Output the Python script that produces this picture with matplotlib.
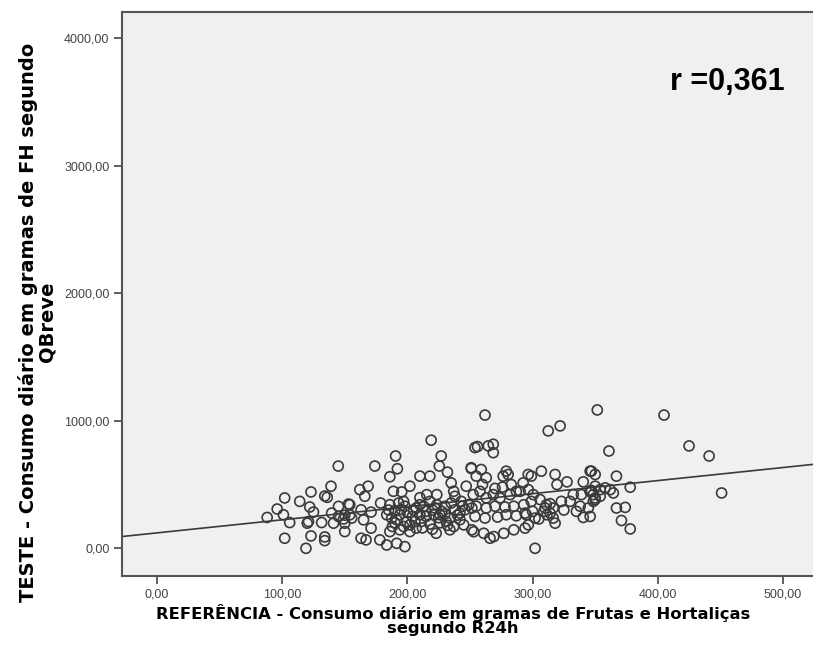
import numpy as np
import matplotlib
matplotlib.use("Agg")
import matplotlib.pyplot as plt
from matplotlib.ticker import FuncFormatter

# consumo diario (g) - REFERENCIA (R24h) x TESTE (QBreve)
x_ref = [144.8, 139, 102, 123, 134, 136, 114, 96, 122, 88, 101, 125, 106, 120, 121, 131.5,
         102, 123, 134, 134, 119, 145, 153, 139.5, 145, 149, 150, 141, 150, 150, 155.5,
         219, 190.6, 174, 227, 192, 225.5, 232, 186, 210, 218, 251, 254, 162, 168.6, 166,
         154, 154, 178.6, 163, 171, 165, 171, 163, 167, 178, 183.5, 191.5, 198, 188.8, 195.5,
         202, 186, 193, 197, 185, 190, 195, 210, 215.5, 223.5, 235, 237, 238, 247, 249,
         251.5, 251.5, 234, 237, 223, 202, 207, 194, 186, 188, 226, 221, 222, 210, 206,
         211, 215, 231, 234, 242, 245, 199.5, 197, 202, 191.5, 194, 187.5, 183.5, 210, 207,
         218, 223.5, 227.5, 230, 238, 242, 246, 235, 243,
         262, 312.5, 322, 256, 264.6, 268.6, 268.6, 251, 259, 255, 263, 279, 280.5, 276.5,
         296.5, 299, 292.5, 307, 318, 319.5, 327.5, 340.5, 346, 350, 347, 350, 340.5, 302,
         252.6, 258, 263, 268.6, 274, 282, 287, 255, 263, 270, 278, 285, 254, 262, 272,
         279, 287, 294, 253, 261, 269, 277, 285, 266, 290, 296.6, 300.6, 306, 311, 316.5,
         293, 299, 295, 296.6, 294, 302, 310, 314, 316.5, 318, 323, 330, 332.5, 339, 346,
         348.5, 309, 311.5,
         351.7, 405, 425, 441, 361, 347, 367, 350, 354, 358, 362, 364.5, 378, 346, 348.5,
         350, 354, 367, 374, 371, 378, 451, 346,
         344.5, 325, 335, 338, 200, 205, 215, 220, 225, 230, 213, 204, 218, 226, 240, 244,
         198, 190, 212, 220, 232, 276, 283, 270, 260, 305, 300, 314]
y_teste = [645, 487, 395, 442, 410, 400, 368, 308, 324, 242, 263, 284, 202, 197, 210, 202,
           79, 97, 89, 60, 0, 329, 347, 276, 250, 230, 260, 197, 131, 197, 237,
           848, 724, 645, 724, 624, 645, 597, 561, 566, 566, 626, 790, 460, 487, 408,
           342, 263, 355, 302, 284, 223, 158, 79, 66, 66, 26, 39, 13, 447, 442,
           487, 342, 355, 368, 300, 295, 305, 397, 421, 421, 513, 447, 408, 487, 342,
           316, 145, 145, 171, 118, 131, 158, 145, 131, 171, 263, 263, 316, 263, 210,
           210, 250, 210, 237, 224, 184, 210, 171, 184, 224, 263, 237, 263, 342, 316,
           368, 342, 289, 329, 302, 276, 302, 355, 368,
           1045, 921, 960, 798, 803, 816, 750, 632, 618, 566, 553, 605, 579, 566,
           579, 566, 513, 605, 579, 500, 521, 521, 605, 579, 453, 395, 242, 0,
           421, 447, 395, 421, 395, 421, 447, 330, 316, 330, 324, 330, 250, 237, 245,
           263, 255, 276, 130, 118, 92, 118, 145, 79, 447, 460, 421, 382, 342, 316,
           342, 368, 263, 184, 158, 237, 316, 276, 237, 197, 368, 368, 421, 421, 447,
           368, 289, 263,
           1085, 1045, 803, 724, 763, 605, 566, 487, 460, 474, 460, 434, 479, 447, 421,
           382, 408, 316, 321, 218, 152, 434, 250,
           316, 300, 290, 330, 280, 300, 290, 300, 240, 270, 330, 250, 190, 200, 260, 330,
           330, 200, 160, 150, 180, 480, 500, 470, 500, 230, 290, 350]

# fit line
fit_intercept = 121.0
fit_slope = 1.025
r_text = "r =0,361"

plt.rcParams['font.family'] = ['Liberation Sans', 'DejaVu Sans']

fig = plt.figure(figsize=(8.13, 6.52), dpi=100)
ax = fig.add_axes([0.150, 0.1166, 0.850, 0.865])
ax.set_facecolor('#f0f0f0')

ax.scatter(x_ref, y_teste, s=52, facecolors='none', edgecolors='#3a3a3a',
           linewidths=1.2, zorder=3)

xlim = (-28, 524)
xx = np.array(xlim)
ax.plot(xx, fit_intercept + fit_slope * xx, color='#3a3a3a', lw=1.2, zorder=2)

ax.set_xlim(*xlim)
ax.set_ylim(-217, 4206)
ax.set_xticks([0, 100, 200, 300, 400, 500])
ax.set_yticks([0, 1000, 2000, 3000, 4000])
fmt = FuncFormatter(lambda v, p: ('%.2f' % v).replace('.', ','))
ax.xaxis.set_major_formatter(fmt)
ax.yaxis.set_major_formatter(fmt)
ax.tick_params(direction='out', length=6, width=1.2, color='#444444',
               labelsize=9, labelcolor='#444444', pad=3)
for lab in ax.get_xticklabels() + ax.get_yticklabels():
    lab.set_family(['Liberation Sans Narrow', 'Liberation Sans'])

for side in ['left', 'bottom', 'top']:
    ax.spines[side].set_color('#555555')
    ax.spines[side].set_linewidth(1.5)
ax.spines['right'].set_visible(False)

ax.set_xlabel(u"REFERÊNCIA - Consumo diário em gramas de Frutas e Hortaliças\nsegundo R24h",
              fontsize=11.8, fontweight='bold', linespacing=0.95, family='DejaVu Sans')
ax.xaxis.set_label_coords(0.479, -0.049, transform=ax.transAxes)
ax.xaxis.label.set_va('top')
ax.set_ylabel(u"TESTE - Consumo diário em gramas de FH segundo\nQBreve",
              fontsize=14, fontweight='bold', linespacing=1.0, family='DejaVu Sans')
ax.yaxis.set_label_coords(-0.094, 0.45, transform=ax.transAxes)

ax.text(0.876, 0.876, r_text, transform=ax.transAxes, ha='center', va='center',
        fontsize=22, fontweight='bold', color='black')

fig.savefig('out.png', dpi=100)
